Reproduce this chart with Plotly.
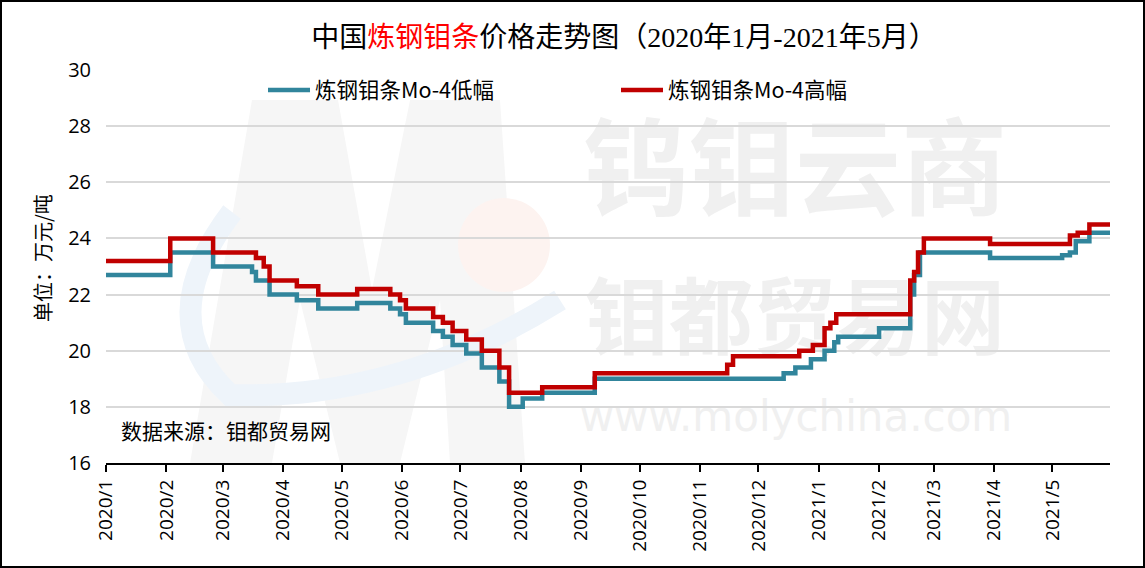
import plotly.graph_objects as go

# ---------------- data ----------------
high_dates = ["2020-01-01", "2020-02-03", "2020-02-25", "2020-03-18", "2020-03-22", "2020-03-25",
              "2020-04-08", "2020-04-19", "2020-05-09", "2020-05-26", "2020-05-31", "2020-06-03",
              "2020-06-17", "2020-06-22", "2020-06-27", "2020-07-04", "2020-07-12", "2020-07-21",
              "2020-07-26", "2020-08-12", "2020-09-08", "2020-11-15", "2020-11-18", "2020-12-22",
              "2020-12-29", "2021-01-04", "2021-01-07", "2021-01-10", "2021-02-17", "2021-02-19",
              "2021-02-21", "2021-02-24", "2021-03-30", "2021-05-10", "2021-05-14", "2021-05-20",
              "2021-05-31"]
high_values = [23.2, 24.0, 23.5, 23.3, 23.0, 22.5,
               22.3, 22.0, 22.2, 22.0, 21.8, 21.5,
               21.2, 21.0, 20.7, 20.4, 20.0, 19.4,
               18.5, 18.7, 19.2, 19.5, 19.8, 20.0,
               20.2, 20.8, 21.0, 21.3, 22.5, 22.8,
               23.5, 24.0, 23.8, 24.1, 24.2, 24.5,
               24.5]

low_dates = ["2020-01-01", "2020-02-03", "2020-02-25", "2020-03-16", "2020-03-18", "2020-03-25",
             "2020-04-08", "2020-04-19", "2020-05-09", "2020-05-26", "2020-05-31", "2020-06-03",
             "2020-06-17", "2020-06-22", "2020-06-27", "2020-07-04", "2020-07-12", "2020-07-21",
             "2020-07-26", "2020-08-02", "2020-08-12", "2020-09-08", "2020-12-14", "2020-12-20",
             "2020-12-28", "2021-01-04", "2021-01-09", "2021-01-11", "2021-02-01", "2021-02-17",
             "2021-02-19", "2021-02-22", "2021-03-30", "2021-05-06", "2021-05-10", "2021-05-13",
             "2021-05-20", "2021-05-31"]
low_values = [22.7, 23.5, 23.0, 22.8, 22.5, 22.0,
              21.8, 21.5, 21.7, 21.5, 21.3, 21.0,
              20.7, 20.5, 20.2, 19.9, 19.4, 18.9,
              18.0, 18.3, 18.5, 19.0, 19.2, 19.4,
              19.7, 20.0, 20.3, 20.5, 20.8, 22.0,
              22.7, 23.5, 23.3, 23.4, 23.5, 23.9,
              24.2, 24.2]

tick_dates = ["2020-01-01", "2020-02-01", "2020-03-01", "2020-04-01", "2020-05-01", "2020-06-01",
              "2020-07-01", "2020-08-01", "2020-09-01", "2020-10-01", "2020-11-01", "2020-12-01",
              "2021-01-01", "2021-02-01", "2021-03-01", "2021-04-01", "2021-05-01"]
tick_labels = ["2020/1", "2020/2", "2020/3", "2020/4", "2020/5", "2020/6", "2020/7", "2020/8",
               "2020/9", "2020/10", "2020/11", "2020/12", "2021/1", "2021/2", "2021/3", "2021/4",
               "2021/5"]

low_name = "炼钢钼条Mo-4低幅"
high_name = "炼钢钼条Mo-4高幅"

# ---------------- layout helpers ----------------
W, H = 1145, 568
L, R, T, B = 106, 1110, 70, 463


def px(x):
    return (x - L) / (R - L)


def py(y):
    return (B - y) / (B - T)


CJK = "Noto Sans CJK SC"
NUM = "Open Sans"

fig = go.Figure()
fig.add_trace(go.Scatter(x=low_dates, y=low_values, name=low_name, mode="lines",
                         line=dict(color="#31859C", width=4.5, shape="hv")))
fig.add_trace(go.Scatter(x=high_dates, y=high_values, name=high_name, mode="lines",
                         line=dict(color="#C00000", width=4.5, shape="hv")))

shapes = []
wm = "#F0F0F0"
# watermark logo (approximate M)
m_pts = [(190, 463), (252, 100), (338, 100), (372, 290), (410, 100), (500, 100),
         (525, 463), (450, 463), (440, 300), (400, 463), (340, 463), (300, 300), (272, 463)]
path = "M " + " L ".join(f"{px(x):.4f},{py(y):.4f}" for x, y in m_pts) + " Z"
shapes.append(dict(type="path", xref="paper", yref="paper", path=path,
                   fillcolor="#F6F6F6", line=dict(width=0), layer="below"))
# faint circle
shapes.append(dict(type="circle", xref="paper", yref="paper",
                   x0=px(458), x1=px(550), y0=py(292), y1=py(198),
                   fillcolor="#FDF3F0", line=dict(width=0), layer="below"))
# faint blue swoosh
sw = [(232, 212), (150, 320), (230, 395), (400, 400), (560, 300)]
swp = (f"M {px(sw[0][0]):.4f},{py(sw[0][1]):.4f} Q {px(sw[1][0]):.4f},{py(sw[1][1]):.4f} "
       f"{px(sw[2][0]):.4f},{py(sw[2][1]):.4f} Q {px(sw[3][0]):.4f},{py(sw[3][1]):.4f} "
       f"{px(sw[4][0]):.4f},{py(sw[4][1]):.4f}")
shapes.append(dict(type="path", xref="paper", yref="paper", path=swp,
                   line=dict(color="#EEF4FA", width=22), layer="below"))


def wm_text(text, x0, x1, y0, y1, size, family=CJK, color=wm, weight="bold"):
    shapes.append(dict(type="rect", xref="paper", yref="paper",
                       x0=px(x0), x1=px(x1), y0=py(y1), y1=py(y0),
                       line=dict(width=0), fillcolor="rgba(0,0,0,0)", layer="below",
                       label=dict(text=text, textposition="middle center", textangle=0,
                                  font=dict(family=family, size=size, color=color,
                                            weight=weight))))


wm_text("钨钼云商", 580, 1010, 105, 250, 106)
wm_text("钼都贸易网", 580, 1010, 258, 390, 84)
wm_text("www.molychina.com", 580, 1012, 390, 436, 42, family="DejaVu Sans", weight="normal")

# outer border
shapes.append(dict(type="rect", xref="paper", yref="paper",
                   x0=px(1), x1=px(1144), y0=py(567), y1=py(1),
                   line=dict(color="black", width=2), fillcolor="rgba(0,0,0,0)", layer="above"))

annotations = [
    dict(text="单位：万元/吨", xref="paper", yref="paper", x=px(42), y=py(258),
         showarrow=False, textangle=-90, xanchor="center", yanchor="middle",
         font=dict(family=CJK, size=20, color="black")),
    dict(text="数据来源：钼都贸易网", xref="paper", yref="paper", x=px(119), y=py(430),
         showarrow=False, xanchor="left", yanchor="middle",
         font=dict(family=CJK, size=21, color="black")),
]

fig.update_layout(
    width=W, height=H,
    margin=dict(l=L, r=W - R, t=T, b=H - B),
    paper_bgcolor="white", plot_bgcolor="white",
    title=dict(text="中国<span style='color:#FF0000'>炼钢钼条</span>价格走势图（2020年1月-2021年5月）",
               x=624 / W, xanchor="center", y=1 - 37 / H, yanchor="middle",
               font=dict(family="Liberation Serif, " + CJK, size=28, color="black")),
    showlegend=True,
    legend=dict(orientation="h", x=px(263), y=py(90), xanchor="left", yanchor="middle",
                entrywidth=296, entrywidthmode="pixels", itemwidth=42,
                font=dict(family=CJK, size=21.5, color="black"),
                bgcolor="rgba(0,0,0,0)"),
    shapes=shapes,
    annotations=annotations,
    xaxis=dict(type="date", range=["2020-01-01", "2021-05-30 14:00"],
               tickvals=tick_dates, ticktext=tick_labels, tickangle=-90,
               showgrid=False, showline=True, linecolor="black", linewidth=2,
               ticks="outside", ticklen=7, tickwidth=2, tickcolor="black",
               tickfont=dict(family=NUM, size=19, color="black"), zeroline=False),
    yaxis=dict(range=[16, 30], dtick=2, tick0=16, showgrid=True, gridcolor="#D9D9D9",
               gridwidth=2, showline=False, zeroline=False, ticks="",
               ticklabelstandoff=14,
               tickfont=dict(family=NUM, size=20, color="black")),
)

fig.write_html("out.html", config={"displayModeBar": False},
               post_script="document.body.style.margin='0';")
